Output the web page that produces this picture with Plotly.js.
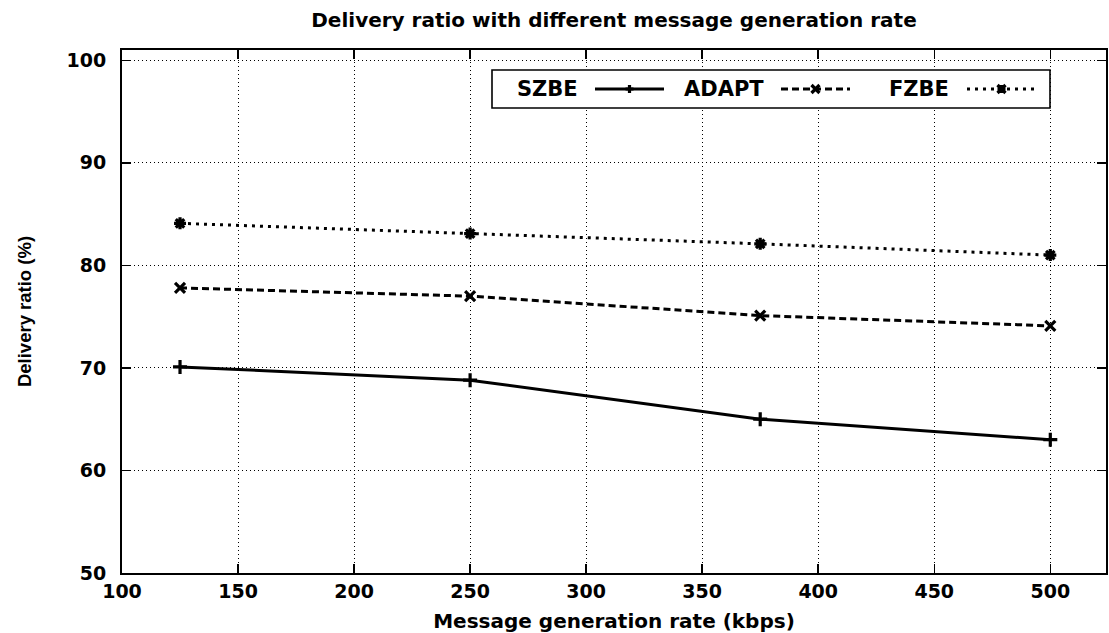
<!DOCTYPE html>
<html><head><meta charset="utf-8">
<script src="https://cdn.plot.ly/plotly-3.0.1.min.js"></script>
<style>html,body{margin:0;padding:0;background:#fff}</style>
</head><body>
<div id="chart" style="width:1109px;height:633px"></div>
<script>
// ---- data ----
const rates = [125, 250, 375, 500];
const szbe  = [70.1, 68.8, 65.0, 63.0];
const adapt = [77.8, 77.0, 75.1, 74.1];
const fzbe  = [84.1, 83.1, 82.1, 81.0];
const seriesNames = ['SZBE', 'ADAPT', 'FZBE'];
const xTicks = [100, 150, 200, 250, 300, 350, 400, 450, 500];
const yTicks = [50, 60, 70, 80, 90, 100];

// ---- layout constants ----
const W = 1109, H = 633;
const M = {l: 122, r: 3, t: 50, b: 60};
const PW = W - M.l - M.r, PH = H - M.t - M.b;
const px = x => (x - M.l) / PW;
const py = y => (H - M.b - y) / PH;
const FONT = 'DejaVu Sans, Liberation Sans, Arial, sans-serif';
const FONT_Y = 'Liberation Sans, Arial, Helvetica, sans-serif';

const styles = [
  {dash: 'solid', symbol: 'cross-thin', size: 10, width: 3},
  {dash: '7px,4px', symbol: 'x-thin', size: 10, width: 3},
  {dash: '3px,5px', symbol: 'asterisk', size: 10, width: 3}
];
const values = [szbe, adapt, fzbe];

const traces = values.map((v, i) => ({
  type: 'scatter', mode: 'lines+markers', name: seriesNames[i],
  x: rates, y: v,
  line: {color: '#000', width: styles[i].width, dash: styles[i].dash},
  marker: {symbol: styles[i].symbol, size: styles[i].size, color: '#000',
           line: {color: '#000', width: 3.2}},
  showlegend: false, hoverinfo: 'x+y'
}));

// ---- manual gnuplot-style key (text then sample) ----
const key = {x0: 492, x1: 1050, y0: 70, y1: 108, cy: 89};
const keyCols = [
  {textRight: 580, s0: 595, s1: 664},
  {textRight: 766, s0: 781, s1: 850},
  {textRight: 951, s0: 967, s1: 1036}
];
const shapes = [{
  type: 'rect', xref: 'paper', yref: 'paper',
  x0: px(key.x0), x1: px(key.x1), y0: py(key.y1), y1: py(key.y0),
  line: {color: '#000', width: 1.6}, fillcolor: '#fff', layer: 'above'
}];
const annotations = [];
keyCols.forEach((c, i) => {
  annotations.push({
    xref: 'paper', yref: 'paper', x: px(c.textRight), y: py(key.cy),
    xanchor: 'right', yanchor: 'middle', showarrow: false,
    text: seriesNames[i], font: {family: FONT, size: 21, weight: 'bold', color: '#000'}
  });
  shapes.push({
    type: 'line', xref: 'paper', yref: 'paper',
    x0: px(c.s0), x1: px(c.s1), y0: py(key.cy), y1: py(key.cy),
    line: {color: '#000', width: styles[i].width, dash: styles[i].dash}, layer: 'above'
  });
  const mx = (c.s0 + c.s1) / 2, r = 4;
  let path;
  if (i === 0) path = `M${px(mx - r)},${py(key.cy)} L${px(mx + r)},${py(key.cy)} M${px(mx)},${py(key.cy - r)} L${px(mx)},${py(key.cy + r)}`;
  else if (i === 1) path = `M${px(mx - r)},${py(key.cy - r)} L${px(mx + r)},${py(key.cy + r)} M${px(mx - r)},${py(key.cy + r)} L${px(mx + r)},${py(key.cy - r)}`;
  else path = `M${px(mx - r)},${py(key.cy - r)} L${px(mx + r)},${py(key.cy + r)} M${px(mx - r)},${py(key.cy + r)} L${px(mx + r)},${py(key.cy - r)} M${px(mx - r)},${py(key.cy)} L${px(mx + r)},${py(key.cy)} M${px(mx)},${py(key.cy - r)} L${px(mx)},${py(key.cy + r)}`;
  shapes.push({type: 'path', xref: 'paper', yref: 'paper', path: path,
    line: {color: '#000', width: 3.2}, layer: 'above'});
});

const axisCommon = {
  showline: true, linecolor: '#000', linewidth: 2, mirror: 'ticks',
  ticks: 'inside', ticklen: 9, tickwidth: 1.5, tickcolor: '#000',
  showgrid: true, gridcolor: '#000', gridwidth: 1, griddash: '1px,3px',
  zeroline: false, tickfont: {family: FONT, size: 19, weight: 'bold', color: '#000'}
};

const layout = {
  width: W, height: H, margin: M,
  paper_bgcolor: '#fff', plot_bgcolor: '#fff',
  title: {text: 'Delivery ratio with different message generation rate',
          font: {family: FONT, size: 20, weight: 'bold', color: '#000'},
          xref: 'paper', x: 0.5, xanchor: 'center', yref: 'container', y: 1 - 20 / H, yanchor: 'middle'},
  xaxis: Object.assign({}, axisCommon, {
    range: [100, 524], tickvals: xTicks, ticktext: xTicks.map(String),
    ticklabelstandoff: 0,
    title: {text: 'Message generation rate (kbps)', standoff: 13,
            font: {family: FONT, size: 20, weight: 'bold', color: '#000'}}
  }),
  yaxis: Object.assign({}, axisCommon, {
    range: [50, 101], tickvals: yTicks, ticktext: yTicks.map(String),
    ticklabelstandoff: 10,
    title: {text: 'Delivery ratio (%)', standoff: 30,
            font: {family: FONT_Y, size: 18.5, weight: 'bold', color: '#000'}}
  }),
  shapes: shapes, annotations: annotations, showlegend: false
};

Plotly.newPlot('chart', traces, layout, {displayModeBar: false, staticPlot: true});
</script>
</body></html>
